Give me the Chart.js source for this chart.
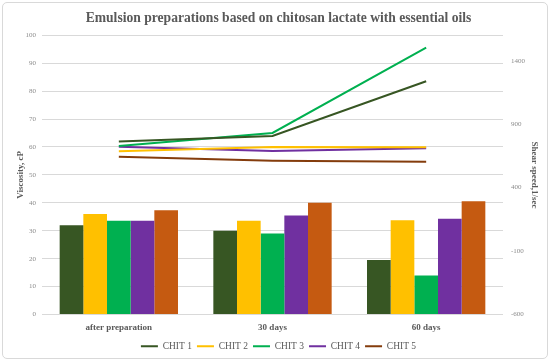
<!DOCTYPE html>
<html>
<head>
<meta charset="utf-8">
<script src="https://cdn.jsdelivr.net/npm/chart.js@4.4.1/dist/chart.umd.min.js"></script>
<style>
  html, body { margin: 0; padding: 0; background: #fff; }
  #wrap { position: relative; width: 550px; height: 361px; }
  #frame { position: absolute; left: 2px; top: 2px; width: 544px; height: 355px;
           border: 1px solid #d9d9d9; border-radius: 5px; }
  #myChart { position: absolute; left: 0; top: 0; }
</style>
</head>
<body>
<div id="wrap">
  <div id="frame"></div>
  <canvas id="myChart" width="550" height="361"></canvas>
</div>
<script>
const categories = ['after preparation', '30 days', '60 days']
const seriesNames = ['CHIT 1', 'CHIT 2', 'CHIT 3', 'CHIT 4', 'CHIT 5']

// viscosity, cP (bars, left axis)
const viscosity = [
    [32, 30, 19.5],
    [36, 33.6, 33.8],
    [33.6, 29, 14],
    [33.6, 35.5, 34.3],
    [37.3, 40, 40.6]
]

// shear speed, 1/sec (lines, right axis)
const shearSpeed = [
    [763, 807, 1238],
    [686, 720, 718],
    [728, 831, 1503],
    [722, 689, 710],
    [643, 612, 604]
]

const rightTicks = [-600, -100, 400, 900, 1400]

const barColors = ['#375623', '#ffc000', '#00b050', '#7030a0', '#c55a11']
const lineColors = ['#375623', '#ffc000', '#00b050', '#7030a0', '#843c0c']

const serif = "'Liberation Serif', 'DejaVu Serif', serif"
const textGray = '#595959'

const datasets = []
seriesNames.forEach(function(name, i){
    datasets.push({
        type: 'line',
        label: name,
        data: shearSpeed[i],
        yAxisID: 'y1',
        borderColor: lineColors[i],
        backgroundColor: lineColors[i],
        borderWidth: 2,
        pointRadius: 0,
        tension: 0,
        order: 0
    })
})
seriesNames.forEach(function(name, i){
    datasets.push({
        type: 'bar',
        label: name,
        data: viscosity[i],
        yAxisID: 'y',
        backgroundColor: barColors[i],
        categoryPercentage: 0.77,
        barPercentage: 1.0,
        order: 1
    })
})

const config = {
    type: 'bar',
    data: { labels: categories, datasets: datasets },
    options: {
        responsive: false,
        animation: false,
        layout: { padding: { left: 15, right: 8, top: 5, bottom: 0 } },
        plugins: {
            title: {
                display: true,
                text: 'Emulsion preparations based on chitosan lactate with essential oils',
                color: textGray,
                font: { family: serif, size: 13.6, weight: 'bold' },
                padding: { top: 5, bottom: 9 }
            },
            legend: {
                position: 'bottom',
                labels: {
                    usePointStyle: true,
                    pointStyle: 'line',
                    pointStyleWidth: 17,
                    color: textGray,
                    font: { family: serif, size: 9.5 },
                    padding: 5,
                    filter: function(item, data){
                        return data.datasets[item.datasetIndex].type === 'line'
                    }
                }
            },
            tooltip: { enabled: false }
        },
        scales: {
            x: {
                grid: { display: false, drawTicks: false },
                border: { display: false },
                ticks: { color: textGray, font: { family: serif, size: 9, weight: 'bold' }, padding: 8 },
                afterFit: function(scale){ scale.height = 22 }
            },
            y: {
                position: 'left',
                min: 0, max: 100,
                ticks: { stepSize: 10, color: '#8c8c8c', font: { family: serif, size: 7 }, padding: 6 },
                grid: { color: '#d9d9d9', drawTicks: false },
                border: { display: false },
                title: { display: true, text: 'Viscosity, cP', color: textGray,
                         font: { family: serif, size: 9, weight: 'bold' }, padding: 0 },
                afterFit: function(scale){ scale.width = 27 }
            },
            y1: {
                position: 'right',
                min: -600, max: 1600,
                ticks: {
                    color: '#8c8c8c', font: { family: serif, size: 7 }, padding: 8,
                    callback: function(value){ return String(value) }
                },
                afterBuildTicks: function(scale){
                    scale.ticks = rightTicks.map(function(v){ return { value: v } })
                },
                grid: { display: false, drawTicks: false },
                border: { display: false },
                title: { display: true, text: 'Shear speed,1/sec', color: textGray,
                         font: { family: serif, size: 9, weight: 'bold' }, padding: 2 },
                afterFit: function(scale){ scale.width = 39 }
            }
        }
    }
}

new Chart(document.getElementById('myChart'), config)
</script>
</body>
</html>
